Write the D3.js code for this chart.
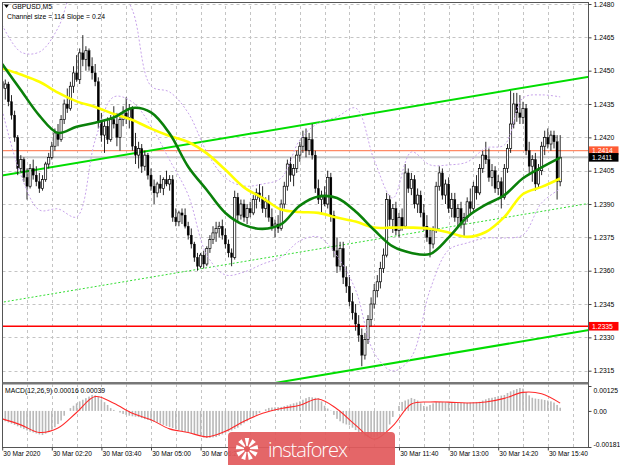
<!DOCTYPE html>
<html><head><meta charset="utf-8">
<script src="https://cdn.jsdelivr.net/npm/d3@7"></script>
<style>
body{margin:0;background:#fff}
svg{display:block}
text{font-family:"Liberation Sans",Arial,sans-serif}
</style>
</head><body>
<svg id="c" width="620" height="465"></svg>
<script>
// ---------------- DATA ----------------
const symbolTitle = "GBPUSD,M5";
const channelTitle = "Channel size = 114 Slope = 0.24";
const macdTitle = "MACD(12,26,9) 0.00016 0.00039";

const openP = [1.2445,1.2442,1.2444,1.2436,1.2430,1.2420,1.2406,1.2410,1.2402,1.2398,
1.2406,1.2403,1.2400,1.2397,1.2401,1.2408,1.2411,1.2416,1.2422,1.2419,
1.2428,1.2435,1.2433,1.2443,1.2449,1.2446,1.2458,1.2455,1.2459,1.2452,
1.2449,1.2445,1.2427,1.2421,1.2425,1.2419,1.2428,1.2426,1.2420,1.2428,
1.2431,1.2429,1.2433,1.2416,1.2412,1.2415,1.2407,1.2412,1.2403,1.2398,
1.2395,1.2399,1.2397,1.2401,1.2399,1.2401,1.2384,1.2382,1.2386,1.2385,
1.2380,1.2376,1.2372,1.2366,1.2362,1.2367,1.2363,1.2370,1.2374,1.2377,
1.2379,1.2380,1.2376,1.2372,1.2368,1.2366,1.2393,1.2385,1.2390,1.2384,
1.2388,1.2386,1.2392,1.2395,1.2393,1.2388,1.2391,1.2384,1.2380,1.2381,
1.2379,1.2390,1.2398,1.2408,1.2403,1.2406,1.2412,1.2416,1.2420,1.2414,
1.2419,1.2412,1.2397,1.2392,1.2394,1.2390,1.2402,1.2385,1.2369,1.2362,
1.2370,1.2357,1.2353,1.2346,1.2341,1.2336,1.2331,1.2322,1.2329,1.2338,
1.2345,1.2351,1.2355,1.2361,1.2367,1.2392,1.2383,1.2388,1.2378,1.2384,
1.2380,1.2404,1.2397,1.2401,1.2390,1.2394,1.2386,1.2380,1.2375,1.2372,
1.2378,1.2398,1.2404,1.2394,1.2399,1.2388,1.2392,1.2384,1.2388,1.2381,
1.2384,1.2391,1.2388,1.2398,1.2395,1.2406,1.2412,1.2410,1.2402,1.2405,
1.2397,1.2400,1.2393,1.2406,1.2415,1.2426,1.2435,1.2431,1.2429,1.2433,
1.2414,1.2407,1.2410,1.2399,1.2405,1.2416,1.2420,1.2417,1.2421,1.2418,
1.2400];
const highP = [1.2450,1.2446,1.2445,1.2439,1.2432,1.2421,1.2412,1.2411,1.2406,1.2408,
1.2410,1.2407,1.2404,1.2403,1.2409,1.2413,1.2418,1.2424,1.2426,1.2430,
1.2437,1.2442,1.2445,1.2452,1.2457,1.2460,1.2466,1.2461,1.2460,1.2456,
1.2453,1.2447,1.2431,1.2428,1.2429,1.2430,1.2434,1.2431,1.2430,1.2434,
1.2438,1.2435,1.2434,1.2422,1.2418,1.2417,1.2414,1.2413,1.2406,1.2401,
1.2400,1.2403,1.2402,1.2405,1.2403,1.2403,1.2388,1.2387,1.2388,1.2388,
1.2382,1.2379,1.2373,1.2368,1.2368,1.2369,1.2371,1.2376,1.2380,1.2382,
1.2382,1.2383,1.2379,1.2374,1.2370,1.2396,1.2395,1.2392,1.2392,1.2390,
1.2391,1.2394,1.2397,1.2399,1.2398,1.2393,1.2394,1.2388,1.2383,1.2385,
1.2392,1.2400,1.2410,1.2411,1.2408,1.2414,1.2418,1.2423,1.2424,1.2422,
1.2426,1.2414,1.2401,1.2396,1.2398,1.2405,1.2404,1.2387,1.2375,1.2373,
1.2373,1.2362,1.2358,1.2350,1.2345,1.2340,1.2334,1.2332,1.2340,1.2348,
1.2354,1.2358,1.2364,1.2370,1.2395,1.2394,1.2390,1.2391,1.2386,1.2388,
1.2408,1.2406,1.2404,1.2403,1.2397,1.2396,1.2390,1.2385,1.2379,1.2380,
1.2400,1.2407,1.2406,1.2401,1.2402,1.2395,1.2395,1.2390,1.2391,1.2386,
1.2393,1.2397,1.2400,1.2403,1.2408,1.2414,1.2418,1.2415,1.2408,1.2407,
1.2403,1.2402,1.2408,1.2417,1.2441,1.2440,1.2440,1.2439,1.2436,1.2435,
1.2418,1.2412,1.2413,1.2408,1.2418,1.2423,1.2424,1.2423,1.2423,1.2421,
1.2421];
const lowP = [1.2440,1.2437,1.2434,1.2428,1.2418,1.2403,1.2404,1.2400,1.2392,1.2397,
1.2401,1.2398,1.2395,1.2396,1.2400,1.2406,1.2410,1.2414,1.2416,1.2418,
1.2426,1.2431,1.2432,1.2440,1.2445,1.2444,1.2452,1.2450,1.2450,1.2446,
1.2443,1.2424,1.2418,1.2413,1.2417,1.2418,1.2424,1.2416,1.2414,1.2425,
1.2426,1.2424,1.2414,1.2408,1.2406,1.2404,1.2405,1.2401,1.2396,1.2390,
1.2393,1.2395,1.2394,1.2398,1.2396,1.2382,1.2380,1.2380,1.2381,1.2379,
1.2374,1.2370,1.2364,1.2360,1.2361,1.2361,1.2362,1.2368,1.2372,1.2373,
1.2375,1.2374,1.2370,1.2366,1.2362,1.2365,1.2382,1.2383,1.2382,1.2381,
1.2384,1.2385,1.2388,1.2391,1.2386,1.2384,1.2382,1.2378,1.2375,1.2377,
1.2378,1.2388,1.2396,1.2400,1.2398,1.2404,1.2409,1.2413,1.2411,1.2412,
1.2410,1.2395,1.2390,1.2386,1.2389,1.2388,1.2382,1.2366,1.2359,1.2360,
1.2354,1.2350,1.2344,1.2338,1.2333,1.2328,1.2317,1.2320,1.2327,1.2335,
1.2343,1.2348,1.2352,1.2359,1.2366,1.2380,1.2377,1.2376,1.2375,1.2378,
1.2379,1.2395,1.2394,1.2388,1.2386,1.2384,1.2378,1.2373,1.2366,1.2370,
1.2377,1.2396,1.2392,1.2390,1.2386,1.2384,1.2382,1.2380,1.2379,1.2375,
1.2382,1.2386,1.2387,1.2392,1.2394,1.2404,1.2408,1.2400,1.2398,1.2395,
1.2394,1.2388,1.2392,1.2404,1.2413,1.2424,1.2427,1.2426,1.2426,1.2412,
1.2404,1.2400,1.2396,1.2397,1.2403,1.2412,1.2415,1.2414,1.2415,1.2392,
1.2398];
const closeP = [1.2442,1.2444,1.2436,1.2430,1.2420,1.2406,1.2410,1.2402,1.2398,1.2406,
1.2403,1.2400,1.2397,1.2401,1.2408,1.2411,1.2416,1.2422,1.2419,1.2428,
1.2435,1.2433,1.2443,1.2449,1.2446,1.2458,1.2455,1.2459,1.2452,1.2449,
1.2445,1.2427,1.2421,1.2425,1.2419,1.2428,1.2426,1.2420,1.2428,1.2431,
1.2429,1.2433,1.2416,1.2412,1.2415,1.2407,1.2412,1.2403,1.2398,1.2395,
1.2399,1.2397,1.2401,1.2399,1.2401,1.2384,1.2382,1.2386,1.2385,1.2380,
1.2376,1.2372,1.2366,1.2362,1.2367,1.2363,1.2370,1.2374,1.2377,1.2379,
1.2380,1.2376,1.2372,1.2368,1.2366,1.2393,1.2385,1.2390,1.2384,1.2388,
1.2386,1.2392,1.2395,1.2393,1.2388,1.2391,1.2384,1.2380,1.2381,1.2379,
1.2390,1.2398,1.2408,1.2403,1.2406,1.2412,1.2416,1.2420,1.2414,1.2419,
1.2412,1.2397,1.2392,1.2394,1.2390,1.2402,1.2385,1.2369,1.2362,1.2370,
1.2357,1.2353,1.2346,1.2341,1.2336,1.2331,1.2322,1.2329,1.2338,1.2345,
1.2351,1.2355,1.2361,1.2367,1.2392,1.2383,1.2388,1.2378,1.2384,1.2380,
1.2404,1.2397,1.2401,1.2390,1.2394,1.2386,1.2380,1.2375,1.2372,1.2378,
1.2398,1.2404,1.2394,1.2399,1.2388,1.2392,1.2384,1.2388,1.2381,1.2384,
1.2391,1.2388,1.2398,1.2395,1.2406,1.2412,1.2410,1.2402,1.2405,1.2397,
1.2400,1.2393,1.2406,1.2415,1.2426,1.2435,1.2431,1.2429,1.2433,1.2414,
1.2407,1.2410,1.2399,1.2405,1.2416,1.2420,1.2417,1.2421,1.2418,1.2400,
1.2411];

// indicator samples (bar index -> value)
const sampleBars = [0,6,12,18,24,30,36,42,48,54,60,66,72,78,84,90,96,102,108,114,120,126,132,138,144,150,156,162,168,174,180];
const maFast = [1.24530,1.24413,1.24298,1.24220,1.24248,1.24266,1.24289,1.24332,1.24312,1.24217,1.24068,1.23963,1.23860,1.23806,1.23788,1.23809,1.23893,1.23934,1.23927,1.23866,1.23783,1.23709,1.23680,1.23675,1.23749,1.23842,1.23897,1.23940,1.24016,1.24065,1.24109];
const maSlow = [1.24510,1.24483,1.24450,1.24401,1.24362,1.24337,1.24305,1.24278,1.24239,1.24206,1.24179,1.24128,1.24054,1.23975,1.23927,1.23875,1.23864,1.23860,1.23839,1.23821,1.23794,1.23794,1.23794,1.23789,1.23772,1.23752,1.23774,1.23842,1.23945,1.23977,1.24015];
const bandUpper = [1.24706,1.24584,1.24584,1.24692,1.24908,1.24953,1.24908,1.24773,1.24431,1.24404,1.24310,1.24134,1.24017,1.23981,1.23990,1.24017,1.24188,1.24265,1.24292,1.24332,1.24098,1.23927,1.24134,1.24076,1.24076,1.24089,1.24152,1.24166,1.24377,1.24391,1.24382];
const bandLower = [1.24323,1.24031,1.23873,1.23878,1.23842,1.24188,1.24382,1.24359,1.24251,1.24098,1.23941,1.23671,1.23581,1.23594,1.23630,1.23662,1.23734,1.23752,1.23666,1.23513,1.23230,1.23149,1.23212,1.23513,1.23693,1.23725,1.23747,1.23747,1.23761,1.23905,1.23968];

const macdMain = [-0.00046,-0.00052,-0.00058,-0.00064,-0.00070,-0.00077,-0.00084,-0.00091,-0.00098,-0.00104,
-0.00108,-0.00113,-0.00118,-0.00121,-0.00114,-0.00106,-0.00094,-0.00082,-0.00066,-0.00048,
-0.00024,0.00000,0.00014,0.00026,0.00038,0.00048,0.00056,0.00064,0.00072,0.00080,
0.00078,0.00070,0.00058,0.00044,0.00030,0.00014,0.00005,0.00000,-0.00008,-0.00015,
-0.00020,-0.00024,-0.00027,-0.00029,-0.00031,-0.00036,-0.00041,-0.00045,-0.00050,-0.00055,
-0.00059,-0.00064,-0.00070,-0.00076,-0.00081,-0.00086,-0.00091,-0.00096,-0.00101,-0.00106,
-0.00109,-0.00112,-0.00116,-0.00120,-0.00126,-0.00133,-0.00136,-0.00135,-0.00133,-0.00131,
-0.00125,-0.00118,-0.00111,-0.00104,-0.00098,-0.00091,-0.00084,-0.00072,-0.00062,-0.00052,
-0.00040,-0.00030,-0.00020,-0.00010,0.00000,0.00008,0.00015,0.00017,0.00018,0.00019,
0.00020,0.00024,0.00028,0.00033,0.00038,0.00042,0.00048,0.00056,0.00064,0.00070,
0.00068,0.00066,0.00064,0.00048,0.00026,0.00012,0.00002,-0.00020,-0.00040,-0.00052,
-0.00062,-0.00068,-0.00072,-0.00084,-0.00096,-0.00106,-0.00116,-0.00128,-0.00132,-0.00132,
-0.00131,-0.00128,-0.00122,-0.00114,-0.00100,-0.00068,-0.00030,0.00000,0.00025,0.00045,
0.00052,0.00058,0.00065,0.00060,0.00052,0.00038,0.00025,0.00022,0.00030,0.00038,
0.00044,0.00045,0.00044,0.00043,0.00042,0.00041,0.00040,0.00040,0.00040,0.00040,
0.00041,0.00042,0.00044,0.00045,0.00046,0.00052,0.00058,0.00064,0.00066,0.00070,
0.00074,0.00077,0.00080,0.00090,0.00098,0.00104,0.00110,0.00115,0.00112,0.00095,
0.00078,0.00066,0.00062,0.00060,0.00058,0.00055,0.00052,0.00048,0.00042,0.00030,
0.00016];
const macdSignal = [-0.00040,-0.00070,-0.00108,-0.00086,-0.00008,0.00072,0.00038,-0.00012,-0.00044,-0.00090,-0.00108,-0.00130,-0.00102,-0.00052,-0.00012,0.00012,0.00028,0.00060,0.00010,-0.00071,-0.00142,-0.00075,0.00035,0.00045,0.00044,0.00040,0.00045,0.00063,0.00093,0.00086,0.00039];

const priceTicks = [1.2480,1.2465,1.2450,1.2435,1.2420,1.2405,1.2390,1.2375,1.2360,1.2345,1.2330,1.2315];
const macdTicks = [0.00125,0,-0.00181];
const macdTickLabels = ["0.00125","0.00","-0.00181"];
// labels at bars 80, 96, 112 (07:40, 09:00, 10:20) lie under the logo in the reference
const timeTickBars = [0,16,32,48,64,128,144,160,176];
const timeTickLabels = ["30 Mar 2020","30 Mar 02:20","30 Mar 03:40","30 Mar 05:00","30 Mar 06:20","30 Mar 11:40","30 Mar 13:00","30 Mar 14:20","30 Mar 15:40"];

const channelStart = {bar:0, price:1.24028};
const channelEnd = {bar:180, price:1.24451};
const channelSize = 0.0114;
const bidPrice = 1.2414, lastPrice = 1.2411, levelPrice = 1.2335;

// ---------------- LAYOUT ----------------
const svg = d3.select("#c");
const PL = 2.5, PR = 588.5, PT = 2.5, PB = 382, MT = 384.5, MB = 447.5;
const nBars = closeP.length;
const x = d3.scaleLinear().domain([0, 180]).range([2.2, 560.2]);
const y = d3.scaleLinear().domain([1.2315, 1.2480]).range([370.7, 4]);
const ym = d3.scaleLinear().domain([-0.00181, 0.00125]).range([447, 386]);

const defs = svg.append("defs");
defs.append("clipPath").attr("id","cm").append("rect").attr("x",PL).attr("y",PT).attr("width",PR-PL).attr("height",PB-PT);
defs.append("clipPath").attr("id","cd").append("rect").attr("x",PL).attr("y",MT).attr("width",PR-PL).attr("height",MB-MT);

const main = svg.append("g").attr("clip-path","url(#cm)");
const sub = svg.append("g").attr("clip-path","url(#cd)");

// grid
const gridCol = "#c4c4c4";
main.selectAll("line.hg").data(priceTicks).join("line")
  .attr("x1",PL).attr("x2",PR).attr("y1",d=>Math.round(y(d))+0.5).attr("y2",d=>Math.round(y(d))+0.5)
  .attr("stroke",gridCol).attr("stroke-dasharray","3,3");
const vBars = d3.range(8, 190, 8);
[main, sub].forEach(g => {
  g.selectAll("line.vg").data(vBars).join("line")
    .attr("x1",d=>Math.round(x(d))+0.5).attr("x2",d=>Math.round(x(d))+0.5)
    .attr("y1",0).attr("y2",465)
    .attr("stroke",gridCol).attr("stroke-dasharray","3,3");
});

// horizontal level lines
main.append("line").attr("x1",PL).attr("x2",PR).attr("y1",y(lastPrice)).attr("y2",y(lastPrice))
  .attr("stroke","#c8c8c8").attr("stroke-width",2);
main.append("line").attr("x1",PL).attr("x2",PR).attr("y1",y(bidPrice)).attr("y2",y(bidPrice))
  .attr("stroke","#ff8a66").attr("stroke-width",1.2);
main.append("line").attr("x1",PL).attr("x2",PR).attr("y1",y(levelPrice)).attr("y2",y(levelPrice))
  .attr("stroke","#ff0000").attr("stroke-width",1.6);

// channel
const chSlope = (channelEnd.price - channelStart.price) / (channelEnd.bar - channelStart.bar);
const chAt = (b, off) => channelStart.price + chSlope * (b - channelStart.bar) + off;
const chB0 = -2, chB1 = 195;
[[0,"#00dd00",2,null],[-channelSize/2,"#33dd33",1,"2,2"],[-channelSize,"#00dd00",2,null]].forEach(([off,col,w,dash]) => {
  main.append("line").attr("x1",x(chB0)).attr("x2",x(chB1))
    .attr("y1",y(chAt(chB0,off))).attr("y2",y(chAt(chB1,off)))
    .attr("stroke",col).attr("stroke-width",w).attr("stroke-dasharray",dash);
});

// candles
const bars = d3.range(nBars).map(i => ({i, o:openP[i], h:highP[i], l:lowP[i], c:closeP[i]}));
const cg = main.append("g");
cg.selectAll("line.w").data(bars).join("line")
  .attr("x1",d=>x(d.i)).attr("x2",d=>x(d.i)).attr("y1",d=>y(d.h)).attr("y2",d=>y(d.l))
  .attr("stroke","#111").attr("stroke-width",0.9);
cg.selectAll("rect.b").data(bars).join("rect")
  .attr("x",d=>x(d.i)-1.1).attr("width",2.2)
  .attr("y",d=>y(Math.max(d.o,d.c))).attr("height",d=>Math.max(0.8, Math.abs(y(d.o)-y(d.c))))
  .attr("fill",d=>d.c>=d.o ? "#fff" : "#000")
  .attr("stroke","#000").attr("stroke-width",d=>d.c>=d.o ? 0.7 : 0.3);

// indicator lines
const sLine = vals => d3.line().x((d,k)=>x(sampleBars[k])).y(d=>y(d)).curve(d3.curveCatmullRom.alpha(0.5))(vals);
main.append("path").attr("d",sLine(bandUpper)).attr("fill","none").attr("stroke","#c7a3ea").attr("stroke-width",1).attr("stroke-dasharray","2,2");
main.append("path").attr("d",sLine(bandLower)).attr("fill","none").attr("stroke","#c7a3ea").attr("stroke-width",1).attr("stroke-dasharray","2,2");
main.append("path").attr("d",sLine(maSlow)).attr("fill","none").attr("stroke","#ffff00").attr("stroke-width",2.6);
main.append("path").attr("d",sLine(maFast)).attr("fill","none").attr("stroke","#0a800a").attr("stroke-width",2.6);

// MACD
sub.selectAll("rect.h").data(macdMain).join("rect")
  .attr("x",(d,i)=>x(i)-0.8).attr("width",1.6)
  .attr("y",d=>Math.min(ym(d),ym(0))).attr("height",d=>Math.abs(ym(d)-ym(0)))
  .attr("fill","#b9b9b9");
sub.append("path").attr("fill","none").attr("stroke","#ff2a2a").attr("stroke-width",1.1)
  .attr("d", d3.line().x((d,k)=>x(sampleBars[k])).y(d=>ym(d)).curve(d3.curveCatmullRom.alpha(0.5))(macdSignal));

// frame
svg.append("rect").attr("x",PL).attr("y",PT).attr("width",PR-PL).attr("height",MB-PT)
  .attr("fill","none").attr("stroke","#555").attr("stroke-width",1);
svg.append("rect").attr("x",PL).attr("y",PB).attr("width",PR-PL).attr("height",MT-PB)
  .attr("fill","#777");

// axes
const fs = "6.8px";
const ay = svg.append("g").attr("transform",`translate(${PR},0)`)
  .call(d3.axisRight(y).tickValues(priceTicks).tickFormat(d3.format(".4f")).tickSize(3).tickPadding(2));
ay.select(".domain").remove();
ay.selectAll("text").attr("font-size",fs).attr("fill","#000").style("font-family","Liberation Sans, Arial");
ay.selectAll("line").attr("stroke","#444");

const am = svg.append("g").attr("transform",`translate(${PR},0)`)
  .call(d3.axisRight(ym).tickValues(macdTicks).tickFormat((d,i)=>macdTickLabels[i]).tickSize(3).tickPadding(2));
am.select(".domain").remove();
am.selectAll("text").attr("font-size",fs).attr("fill","#000").style("font-family","Liberation Sans, Arial")
  .attr("dy",(d,i)=> i===0 ? "0.9em" : (i===2 ? "-0.1em" : "0.32em"));
am.selectAll("line").attr("stroke","#444");

const ax = svg.append("g").attr("transform",`translate(0,${MB})`)
  .call(d3.axisBottom(x).tickValues(timeTickBars).tickFormat((d,i)=>timeTickLabels[i]).tickSize(3).tickPadding(1));
ax.select(".domain").remove();
ax.selectAll("text").attr("font-size","6.6px").attr("fill","#000").attr("text-anchor","start").attr("dx","0.1em")
  .style("font-family","Liberation Sans, Arial");
ax.selectAll("line").attr("stroke","#444");
// ticks for label positions hidden by logo
ax.selectAll("line.hid").data([80,96,112]).join("line")
  .attr("x1",d=>x(d)).attr("x2",d=>x(d)).attr("y1",0).attr("y2",3).attr("stroke","#444");

// price tags
function tag(p, bg, fg) {
  const g = svg.append("g");
  g.append("rect").attr("x",PR+0.5).attr("y",y(p)-4.3).attr("width",29.5).attr("height",8.6).attr("fill",bg);
  g.append("text").attr("x",PR+3.5).attr("y",y(p)).attr("dy","0.34em").attr("font-size",fs).attr("fill",fg)
    .text(d3.format(".4f")(p));
}
tag(bidPrice, "#ff5b33", "#fff");
tag(lastPrice, "#000", "#fff");
tag(levelPrice, "#ff0000", "#fff");

// titles
svg.append("path").attr("d","M4,4.5 L9,4.5 L6.5,8 Z").attr("fill","#000");
svg.append("text").attr("x",12).attr("y",9).attr("font-size","6.8px").attr("fill","#000").text(symbolTitle);
svg.append("text").attr("x",7).attr("y",19).attr("font-size","6.8px").attr("fill","#000").text(channelTitle);
svg.append("text").attr("x",5).attr("y",393).attr("font-size","6.8px").attr("fill","#000").text(macdTitle);

// logo
const lg = svg.append("g");
lg.append("rect").attr("x",228).attr("y",432).attr("width",167).attr("height",40).attr("rx",4)
  .attr("fill","#e25a5c").attr("opacity",0.93);
const ic = lg.append("g").attr("transform","translate(247,449)").attr("fill","#fff");
[0,40,80,120,160,200,240,280,320].forEach(a => {
  ic.append("path").attr("d","M0,0 L2.2,-11 L-2.2,-11 Z").attr("transform",`rotate(${a})`);
});
ic.append("circle").attr("r",3).attr("fill","#e25a5c");
lg.append("text").attr("x",268).attr("y",457).attr("font-size","20px").attr("fill","#fff")
  .style("font-family","Open Sans, Roboto, sans-serif").attr("font-weight",300)
  .attr("textLength",80).text("instaforex");
</script>
</body></html>
